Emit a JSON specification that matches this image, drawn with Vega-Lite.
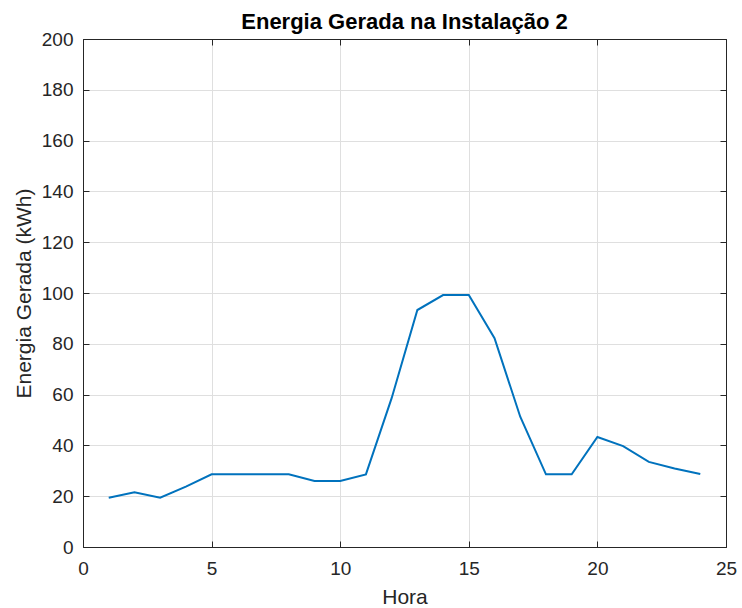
{
  "$schema": "https://vega.github.io/schema/vega-lite/v6.json",
  "width": 643,
  "height": 508,
  "autosize": {"type": "none"},
  "padding": {"left": 83, "top": 39, "right": 16, "bottom": 61},
  "background": "white",
  "title": {"text": "Energia Gerada na Instalação 2", "fontSize": 22, "font": "Liberation Sans", "fontWeight": "bold", "color": "#000000", "anchor": "middle", "offset": -4},
  "config": {
    "view": {"stroke": "#262626", "strokeWidth": 1},
    "font": "Liberation Sans"
  },
  "data": {"values": [
    {"hora": 1, "energia": 19.4},
    {"hora": 2, "energia": 21.5},
    {"hora": 3, "energia": 19.4},
    {"hora": 4, "energia": 23.8},
    {"hora": 5, "energia": 28.6},
    {"hora": 6, "energia": 28.6},
    {"hora": 7, "energia": 28.6},
    {"hora": 8, "energia": 28.6},
    {"hora": 9, "energia": 26.0},
    {"hora": 10, "energia": 26.0},
    {"hora": 11, "energia": 28.6},
    {"hora": 12, "energia": 58.6},
    {"hora": 13, "energia": 93.3},
    {"hora": 14, "energia": 99.2},
    {"hora": 15, "energia": 99.2},
    {"hora": 16, "energia": 82.2},
    {"hora": 17, "energia": 51.3},
    {"hora": 18, "energia": 28.6},
    {"hora": 19, "energia": 28.6},
    {"hora": 20, "energia": 43.3},
    {"hora": 21, "energia": 39.7},
    {"hora": 22, "energia": 33.5},
    {"hora": 23, "energia": 30.9},
    {"hora": 24, "energia": 28.7}
  ]},
  "layer": [
    {
      "mark": {"type": "line", "color": "#0072BD", "strokeWidth": 2},
      "encoding": {
        "x": {
          "field": "hora", "type": "quantitative",
          "scale": {"domain": [0, 25], "nice": false, "zero": false},
          "axis": {
            "title": "Hora", "titleFontSize": 21, "titleFontWeight": "normal", "titleColor": "#262626", "titlePadding": 8,
            "values": [0, 5, 10, 15, 20, 25], "format": "d",
            "labelFontSize": 19, "labelColor": "#262626", "labelPadding": 18,
            "tickSize": -6, "tickColor": "#262626",
            "domainColor": "#262626", "grid": true, "gridColor": "#dfdfdf", "labelFlush": false
          }
        },
        "y": {
          "field": "energia", "type": "quantitative",
          "scale": {"domain": [0, 200], "nice": false},
          "axis": {
            "title": "Energia Gerada (kWh)", "titleFontSize": 21, "titleFontWeight": "normal", "titleColor": "#262626", "titlePadding": 7,
            "values": [0, 20, 40, 60, 80, 100, 120, 140, 160, 180, 200],
            "labelFontSize": 19, "labelColor": "#262626", "labelPadding": 16,
            "tickSize": -6, "tickColor": "#262626",
            "domainColor": "#262626", "grid": true, "gridColor": "#dfdfdf", "labelFlush": false
          }
        }
      }
    },
    {
      "mark": {"type": "line", "opacity": 0},
      "encoding": {
        "x": {
          "field": "hora", "type": "quantitative",
          "scale": {"domain": [0, 25], "nice": false, "zero": false},
          "axis": {"orient": "top", "title": null, "labels": false, "values": [0, 5, 10, 15, 20, 25], "tickSize": -6, "tickColor": "#262626", "domainColor": "#262626", "grid": false}
        },
        "y": {
          "field": "energia", "type": "quantitative",
          "scale": {"domain": [0, 200], "nice": false},
          "axis": {"orient": "right", "title": null, "labels": false, "values": [0, 20, 40, 60, 80, 100, 120, 140, 160, 180, 200], "tickSize": -6, "tickColor": "#262626", "domainColor": "#262626", "grid": false}
        }
      }
    }
  ],
  "resolve": {"scale": {"x": "independent", "y": "independent"}, "axis": {"x": "independent", "y": "independent"}}
}
